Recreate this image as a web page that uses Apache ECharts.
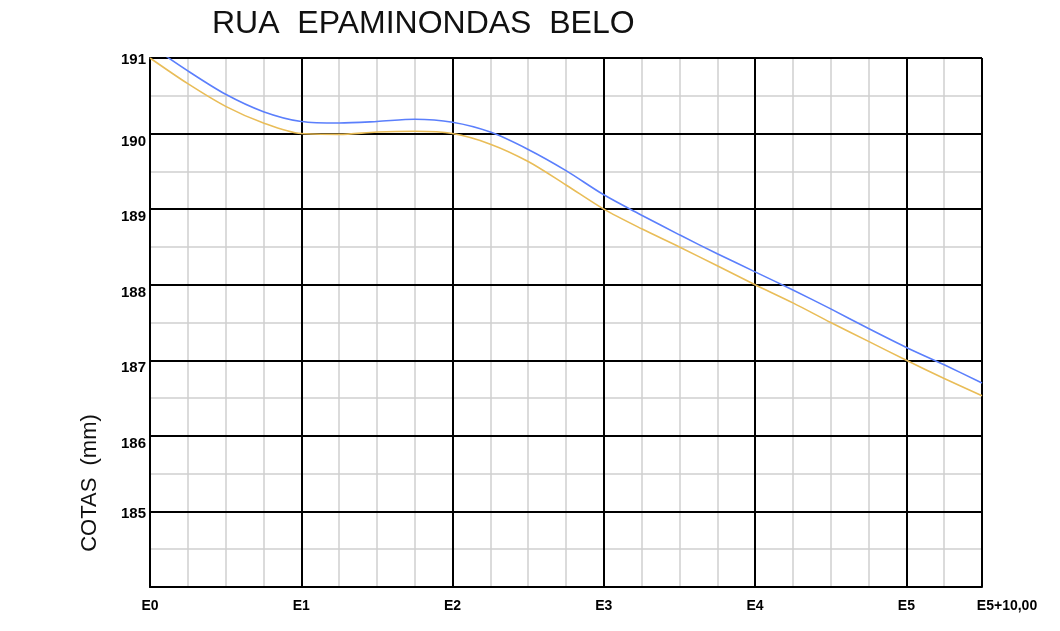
<!DOCTYPE html>
<html>
<head>
<meta charset="utf-8">
<script src="https://cdn.jsdelivr.net/npm/echarts@6/dist/echarts.min.js"></script>
<style>html,body{margin:0;padding:0;background:#fff}#c{width:1060px;height:631px}</style>
</head>
<body>
<div id="c"></div>
<script>
// distances along the street (m), stations every 20 m
const distances = [0,5,10,15,20,25,30,35,40,45,50,55,60,65,70,75,80,85,90,95,100,105,110];
// yellow profile (terreno)
const yellowCotas = [191.00,190.66,190.36,190.14,190.00,189.99,190.02,190.03,190.00,189.86,189.63,189.32,189.00,188.74,188.50,188.25,188.00,187.76,187.50,187.25,187.00,186.76,186.53];
// blue profile
const blueCotas = [191.17,190.83,190.52,190.29,190.16,190.14,190.16,190.19,190.15,190.02,189.79,189.51,189.19,188.92,188.66,188.41,188.17,187.93,187.68,187.42,187.17,186.94,186.70];
const stationLabels = {0:'E0',20:'E1',40:'E2',60:'E3',80:'E4',100:'E5',110:'E5+10,00'};
const yTickLabels = {185:'185',186:'186',187:'187',188:'188',189:'189',190:'190',191:'191'};

const chart = echarts.init(document.getElementById('c'));
const ff = 'Liberation Sans, Arial, sans-serif';
const pairs = arr => distances.map((d,i)=>[d,arr[i]]);

chart.setOption({
  animation:false,
  backgroundColor:'#fff',
  title:{
    text:'RUA  EPAMINONDAS  BELO',
    left:212, top:8, padding:0,
    textStyle:{fontSize:32,fontWeight:'normal',fontFamily:ff,color:'#111'}
  },
  grid:{left:150,right:78,top:58,bottom:44,containLabel:false},
  xAxis:[
    {
      type:'value',min:0,max:110,interval:20,z:1,
      axisLine:{show:true,lineStyle:{color:'#000',width:2}},
      axisTick:{show:false},
      splitLine:{show:true,lineStyle:{color:'#000',width:2}},
      axisLabel:{
        margin:12,fontSize:14,fontWeight:'bold',fontFamily:ff,color:'#000',
        formatter:v=>{
          const t = stationLabels[v]||'';
          if(v===110) return '{r|'+t+'}';
          if(v===0) return '{u|'+t+'}';
          return t;
        },
        rich:{
          r:{fontSize:14,fontWeight:'bold',fontFamily:ff,color:'#000',padding:[0,0,3,50]},
          u:{fontSize:14,fontWeight:'bold',fontFamily:ff,color:'#000',padding:[0,0,8,0]}
        }
      }
    },
    {
      type:'value',min:0,max:110,interval:5,z:0,position:'bottom',
      axisLine:{show:false},axisTick:{show:false},axisLabel:{show:false},
      splitLine:{show:true,lineStyle:{color:'#cfcfcf',width:1.5}}
    }
  ],
  yAxis:[
    {
      type:'value',min:184,max:191,interval:1,z:1,
      axisLine:{show:true,lineStyle:{color:'#000',width:2}},
      axisTick:{show:false},
      splitLine:{show:true,lineStyle:{color:'#000',width:2}},
      axisLabel:{
        margin:4,fontSize:15,fontWeight:'bold',fontFamily:ff,color:'#000',
        formatter:v=>{
          const t = yTickLabels[v];
          if(!t) return '';
          if(v===191||v===185) return '{a|'+t+'}';
          return '{b|'+t+'}';
        },
        rich:{
          a:{fontSize:15,fontWeight:'bold',fontFamily:ff,color:'#000',padding:[4,0,0,0]},
          b:{fontSize:15,fontWeight:'bold',fontFamily:ff,color:'#000',padding:[16,0,0,0]}
        }
      }
    },
    {
      type:'value',min:184,max:191,interval:0.5,z:0,position:'left',
      axisLine:{show:false},axisTick:{show:false},axisLabel:{show:false},
      splitLine:{show:true,lineStyle:{color:'#cfcfcf',width:1.5}}
    }
  ],
  graphic:[
    {
      type:'text',x:90,y:483,rotation:Math.PI/2,
      style:{text:'COTAS  (mm)',fontSize:22,fontFamily:ff,fill:'#111',align:'center',verticalAlign:'middle'}
    }
  ],
  series:[
    {
      type:'line',name:'Terreno',xAxisIndex:0,yAxisIndex:0,z:3,
      data:pairs(yellowCotas),smooth:0.3,showSymbol:false,clip:true,
      lineStyle:{color:'#e9bd58',width:1.6}
    },
    {
      type:'line',name:'Projeto',xAxisIndex:0,yAxisIndex:0,z:3,
      data:pairs(blueCotas),smooth:0.3,showSymbol:false,clip:true,
      lineStyle:{color:'#5b7ffc',width:1.6}
    }
  ]
});
</script>
</body>
</html>
